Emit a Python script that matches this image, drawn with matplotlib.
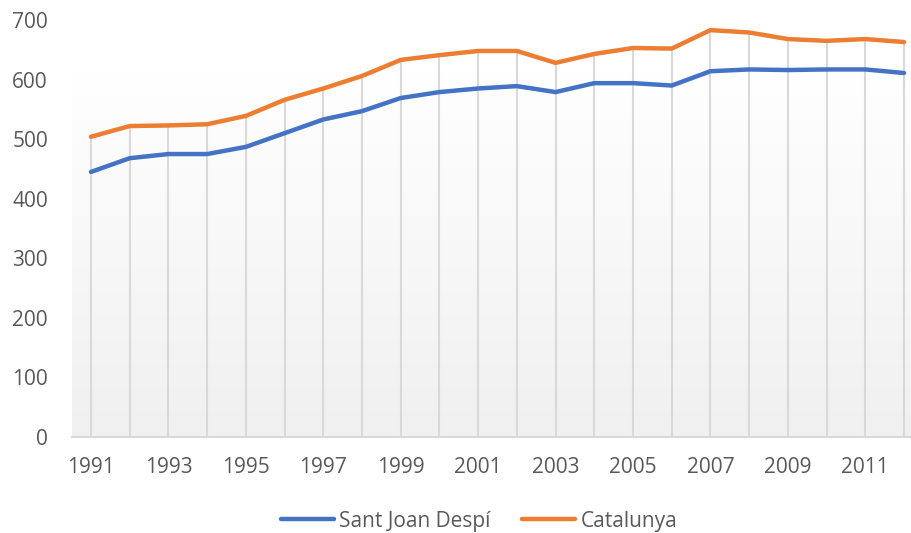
import matplotlib

matplotlib.use("Agg")
import matplotlib.pyplot as plt
import numpy as np
from matplotlib.colors import LinearSegmentedColormap

years = list(range(1991, 2013))
sant_joan = [445, 468, 475, 475, 487, 510, 533, 547, 569, 579, 585, 589,
             579, 594, 594, 590, 614, 617, 616, 617, 617, 611]
catalunya = [504, 522, 523, 525, 539, 566, 585, 606, 633, 641, 648, 648,
             628, 643, 653, 652, 683, 679, 668, 665, 668, 663]
y_ticks = [0, 100, 200, 300, 400, 500, 600, 700]

TEXT = "#595959"
GRID = "#d9d9d9"
plt.rcParams["font.family"] = ["Open Sans", "DejaVu Sans"]

fig = plt.figure(figsize=(9.11, 5.33), dpi=100)
ax = fig.add_axes([0.0786, 0.180, 0.935, 0.7825])

# soft vertical fill behind the plot area
cmap = LinearSegmentedColormap.from_list("fill", ["#f0f0f0", "#ffffff"])
grad = np.linspace(0, 1, 256).reshape(-1, 1)
ax.imshow(grad, origin="lower", aspect="auto", cmap=cmap,
          extent=[years[0] - 0.5, years[-1] + 0.5, 0, 615], zorder=0)

# drop lines from the highest series down to the axis
top = np.maximum(sant_joan, catalunya)
ax.vlines(years, 0, top, color=GRID, lw=1.5, zorder=1)

ax.plot(years, sant_joan, color="#4472C4", lw=3.2, solid_capstyle="round",
        solid_joinstyle="round", label="Sant Joan Despí", zorder=3)
ax.plot(years, catalunya, color="#ED7D31", lw=3.2, solid_capstyle="round",
        solid_joinstyle="round", label="Catalunya", zorder=3)

ax.set_xlim(years[0] - 0.5, years[-1] + 0.5)
ax.set_ylim(0, 700)
ax.set_yticks(y_ticks)
ax.set_xticks(years[::2])
ax.tick_params(axis="both", length=0, labelsize=15, colors=TEXT)
ax.tick_params(axis="y", pad=17)
ax.tick_params(axis="x", pad=14)
for side in ("top", "right", "left"):
    ax.spines[side].set_visible(False)
ax.spines["bottom"].set_color(GRID)
ax.spines["bottom"].set_linewidth(1.5)

fig.legend(loc="center", bbox_to_anchor=(0.526, 0.022), ncol=2, frameon=False,
           fontsize=15, labelcolor=TEXT, handlelength=2.55, handletextpad=0.25,
           columnspacing=1.5)

fig.savefig("out.png", dpi=100)
